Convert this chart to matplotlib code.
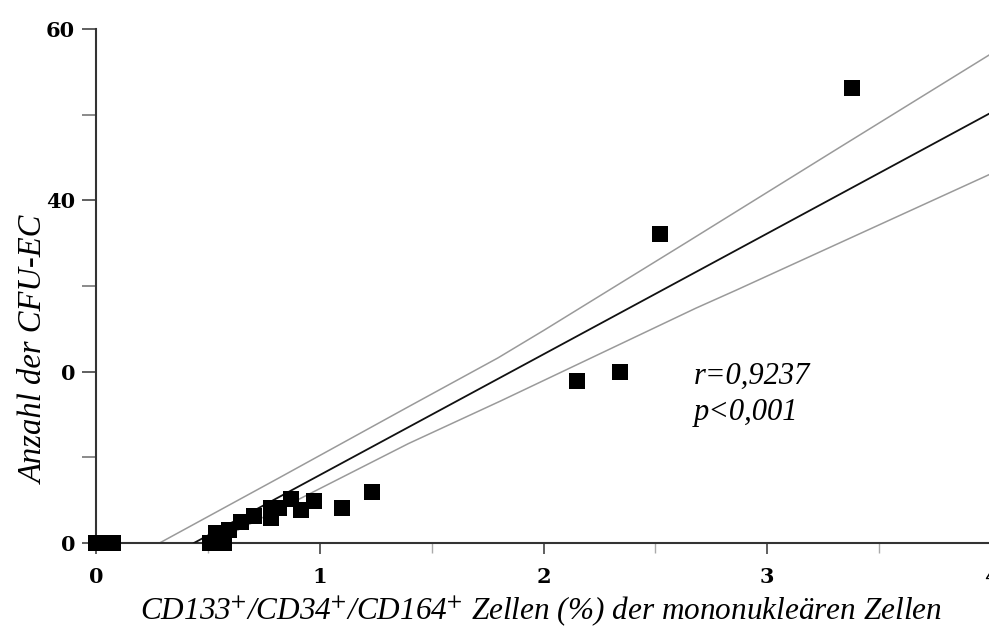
import matplotlib
matplotlib.use("Agg")
import matplotlib.pyplot as plt
import numpy as np

plt.rcParams['font.family'] = ['Liberation Serif', 'DejaVu Serif']
plt.rcParams['mathtext.fontset'] = 'stix'

# Data points (CD133+/CD34+/CD164+ % vs. number of CFU-EC)
x_vals = [0.0, 0.04, 0.075, 0.51, 0.57, 0.536, 0.596, 0.647, 0.707, 0.781, 0.781,
          0.818, 0.87, 0.914, 0.973, 1.099, 1.233, 2.15, 2.34, 2.52, 3.38]
y_vals = [0.0, 0.0, 0.0, 0.0, 0.0, 1.13, 1.5, 2.4, 3.15, 2.9, 4.05,
          4.1, 5.1, 3.9, 4.9, 4.05, 5.9, 18.9, 20.0, 36.1, 53.1]

# Regression line
reg_slope = 14.1
reg_intercept = -6.17

# Confidence band curves
upper_x = [0.284, 0.818, 1.396, 1.796, 2.0, 2.64, 3.3, 4.0]
upper_y = [0.0, 7.6, 15.9, 21.6, 24.8, 35.1, 45.8, 57.1]
lower_x = [0.52, 0.876, 1.396, 1.81, 2.68, 2.86, 4.0]
lower_y = [0.0, 4.7, 11.6, 16.6, 27.4, 29.5, 43.1]

x_ticks = [0, 1, 2, 3, 4]
x_ticklabels = ['0', '1', '2', '3', '4']
y_ticks = [0, 20, 40, 60]
y_ticklabels = ['0', '0', '40', '60']

fig = plt.figure(figsize=(9.89, 6.32), dpi=100)
ax = fig.add_axes([96/989, 1-543/632, 895/989, (543-29)/632])

ax.set_xlim(0, 4)
ax.set_ylim(0, 60)

# bands
ax.plot(upper_x, upper_y, color='#9a9a9a', lw=1.1, zorder=2)
ax.plot(lower_x, lower_y, color='#9a9a9a', lw=1.1, zorder=2)
# regression
xr = np.array([-reg_intercept/reg_slope, 4.0])
ax.plot(xr, reg_slope*xr + reg_intercept, color='#111111', lw=1.3, zorder=3)

ax.scatter(x_vals, y_vals, marker='s', s=118, color='black', zorder=4,
           clip_on=False, linewidths=0)

for s in ['top', 'right']:
    ax.spines[s].set_visible(False)
for s in ['left', 'bottom']:
    ax.spines[s].set_linewidth(1.5)
    ax.spines[s].set_color('#333333')

tick_font = dict(family='DejaVu Serif', weight='bold', size=15)
ax.set_xticks(x_ticks)
ax.set_xticklabels(x_ticklabels, fontdict=tick_font)
ax.set_xticks([0.5, 1.5, 2.5, 3.5], minor=True)
ax.set_yticks(y_ticks)
ax.set_yticklabels(y_ticklabels, fontdict=tick_font)
ax.set_yticks([10, 30, 50], minor=True)
ax.tick_params(axis='x', which='major', length=8, width=1.2, color='#444444', pad=9)
ax.tick_params(axis='x', which='minor', length=7, width=1.0, color='#aaaaaa')
ax.tick_params(axis='y', which='major', length=10, width=1.2, color='#444444', pad=5)
ax.tick_params(axis='y', which='minor', length=10, width=1.2, color='#777777')

ax.set_xlabel(r"CD133$^{+}$/CD34$^{+}$/CD164$^{+}$ Zellen (%) der mononukleären Zellen",
              family='Liberation Serif', fontstyle='italic', fontsize=22.5)
ax.xaxis.set_label_coords(0.497, -0.10)
ax.set_ylabel("Anzahl der CFU-EC", family='Liberation Serif', fontstyle='italic', fontsize=23.5)
ax.yaxis.set_label_coords(-0.052, 0.375)

ax.text(2.67, 18.6, "r=0,9237", family='Liberation Serif', fontstyle='italic', fontsize=22,
        ha='left', va='baseline')
ax.text(2.67, 14.4, "p<0,001", family='Liberation Serif', fontstyle='italic', fontsize=22,
        ha='left', va='baseline')

fig.savefig("out.png", dpi=100)
